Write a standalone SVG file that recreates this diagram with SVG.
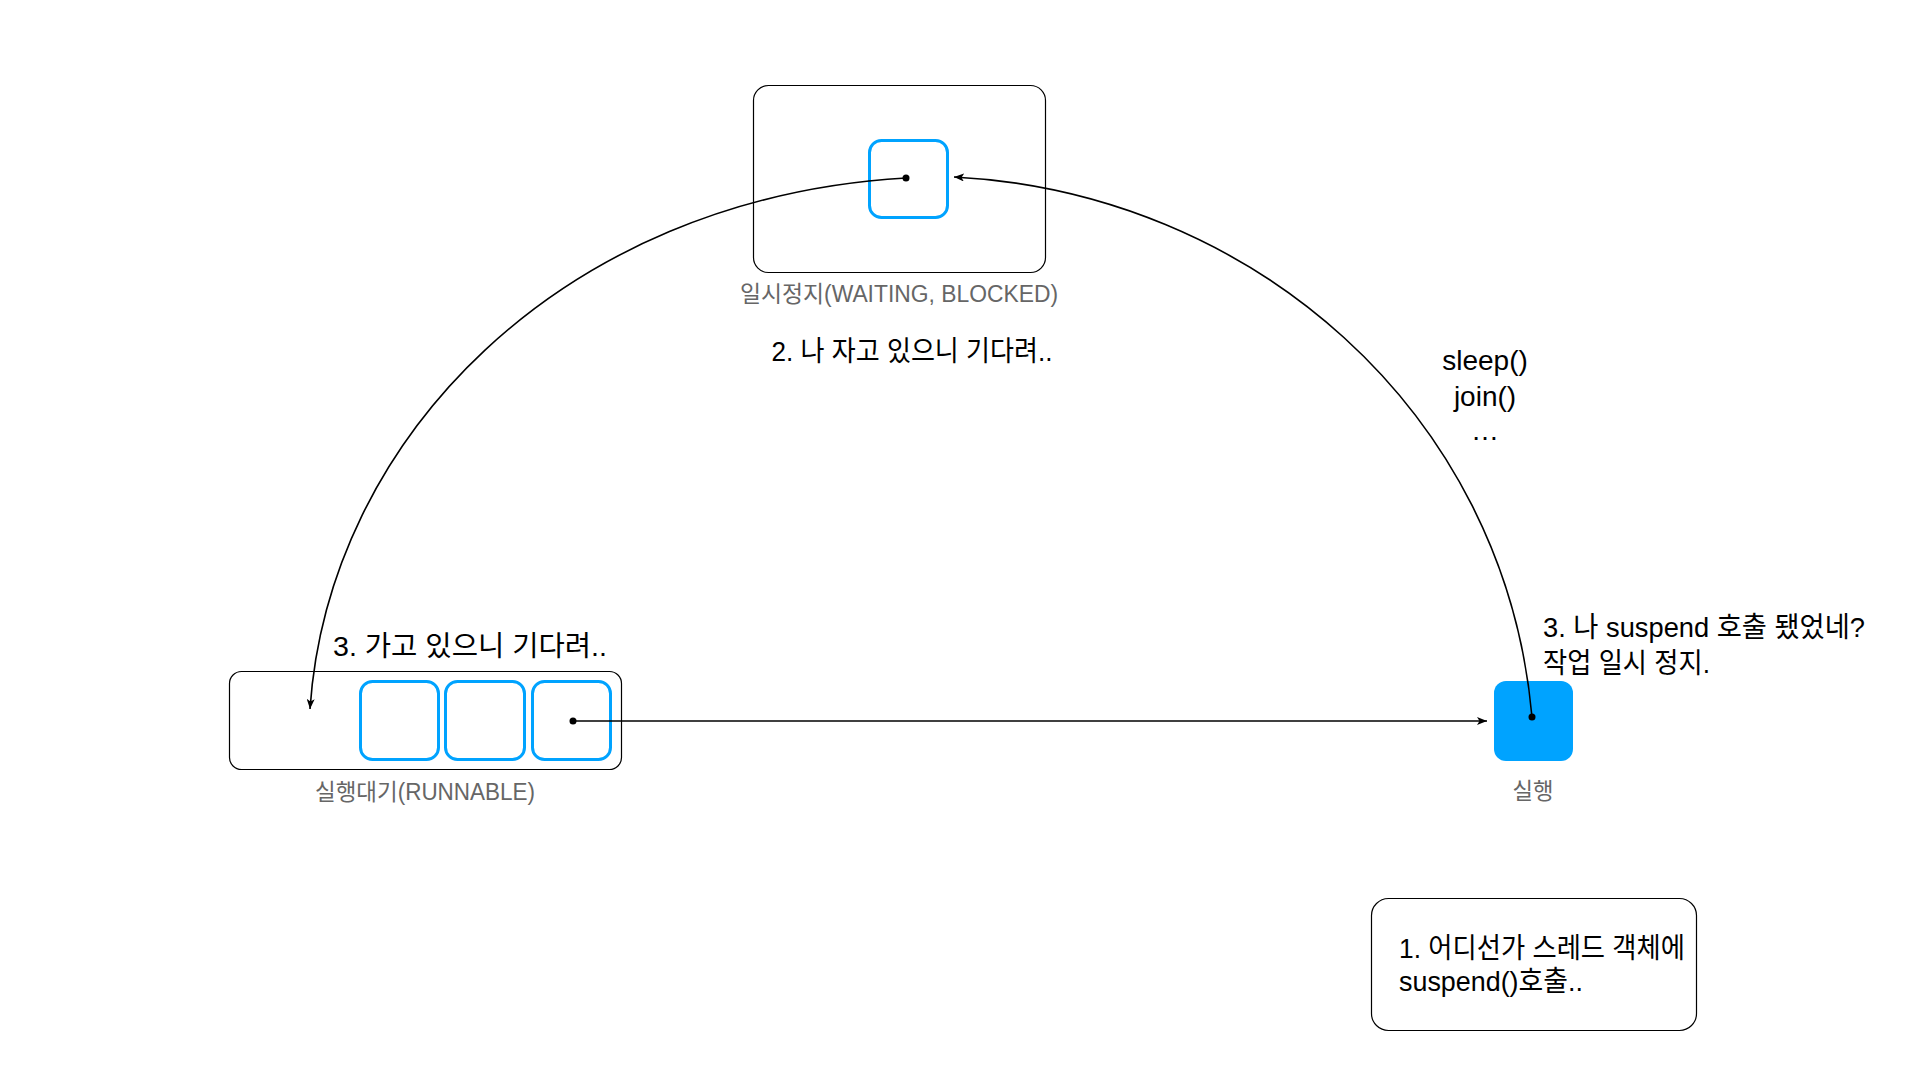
<svg xmlns="http://www.w3.org/2000/svg" width="1920" height="1080" viewBox="0 0 1920 1080">
<style>
text { font-family: "Liberation Sans", "Noto Sans CJK KR", sans-serif; }
.frame { fill: #ffffff; stroke: #000000; stroke-width: 1.2; }
.slot { fill: #ffffff; stroke: #00A3FF; stroke-width: 3; }
.run { fill: #00A3FF; stroke: none; }
.lbl { font-size: 23px; fill: #666666; text-anchor: middle; }
.txt { font-size: 28px; fill: #000000; }
.mid { text-anchor: middle; }
.edge { fill: none; stroke: #000000; stroke-width: 1.6; }
.dot { fill: #000000; }
</style>
<defs>
<marker id="arrow" viewBox="0 0 10 8" refX="10" refY="4" markerWidth="10" markerHeight="8" markerUnits="userSpaceOnUse" orient="auto">
<path d="M0,0 L10,4 L0,8 L2.5,4 Z" fill="#000000"/>
</marker>
</defs>
<rect width="1920" height="1080" fill="#ffffff"/>

<g id="waiting">
<rect class="frame" x="753.5" y="85.5" width="292" height="187" rx="15"/>
<rect class="slot" x="869.5" y="140.5" width="78" height="77" rx="12"/>
<text class="lbl" x="899" y="302" textLength="318" lengthAdjust="spacingAndGlyphs">일시정지(WAITING, BLOCKED)</text>
</g>

<g id="runnable">
<rect class="frame" x="229.5" y="671.5" width="392" height="98" rx="12"/>
<rect class="slot" x="360.5" y="681.5" width="78" height="78" rx="12"/>
<rect class="slot" x="445.5" y="681.5" width="79" height="78" rx="12"/>
<rect class="slot" x="532.5" y="681.5" width="78" height="78" rx="12"/>
<text class="lbl" x="425" y="800" textLength="220" lengthAdjust="spacingAndGlyphs">실행대기(RUNNABLE)</text>
</g>

<g id="running">
<rect class="run" x="1494" y="681" width="79" height="80" rx="12"/>
<text class="lbl" x="1533" y="799" textLength="41" lengthAdjust="spacingAndGlyphs">실행</text>
</g>

<g id="note">
<rect class="frame" x="1371.5" y="898.5" width="325" height="132" rx="17"/>
<text class="txt" x="1399" y="958" textLength="286" lengthAdjust="spacingAndGlyphs">1. 어디선가 스레드 객체에</text>
<text class="txt" x="1399" y="991" textLength="184" lengthAdjust="spacingAndGlyphs">suspend()호출..</text>
</g>

<g id="connectors">
<path class="edge" marker-end="url(#arrow)" d="M906,178 C560,198 328,440 310,709"/>
<circle class="dot" cx="906" cy="178" r="3.5"/>
<path class="edge" marker-end="url(#arrow)" d="M1532,717 C1505,410 1250,192 954,177"/>
<circle class="dot" cx="1532" cy="717" r="3.5"/>
<path class="edge" marker-end="url(#arrow)" d="M573,721 L1487,721"/>
<circle class="dot" cx="573" cy="721" r="3.5"/>
</g>

<g id="labels">
<text class="txt mid" x="912" y="361" textLength="281" lengthAdjust="spacingAndGlyphs">2. 나 자고 있으니 기다려..</text>
<text class="txt mid" x="470" y="656" textLength="274" lengthAdjust="spacingAndGlyphs">3. 가고 있으니 기다려..</text>
<text class="txt mid" x="1485" y="370">sleep()</text>
<text class="txt mid" x="1485" y="406">join()</text>
<text class="txt mid" x="1485" y="440">…</text>
<text class="txt" x="1543" y="637" textLength="322" lengthAdjust="spacingAndGlyphs">3. 나 suspend 호출 됐었네?</text>
<text class="txt" x="1543" y="673" textLength="167" lengthAdjust="spacingAndGlyphs">작업 일시 정지.</text>
</g>
</svg>
